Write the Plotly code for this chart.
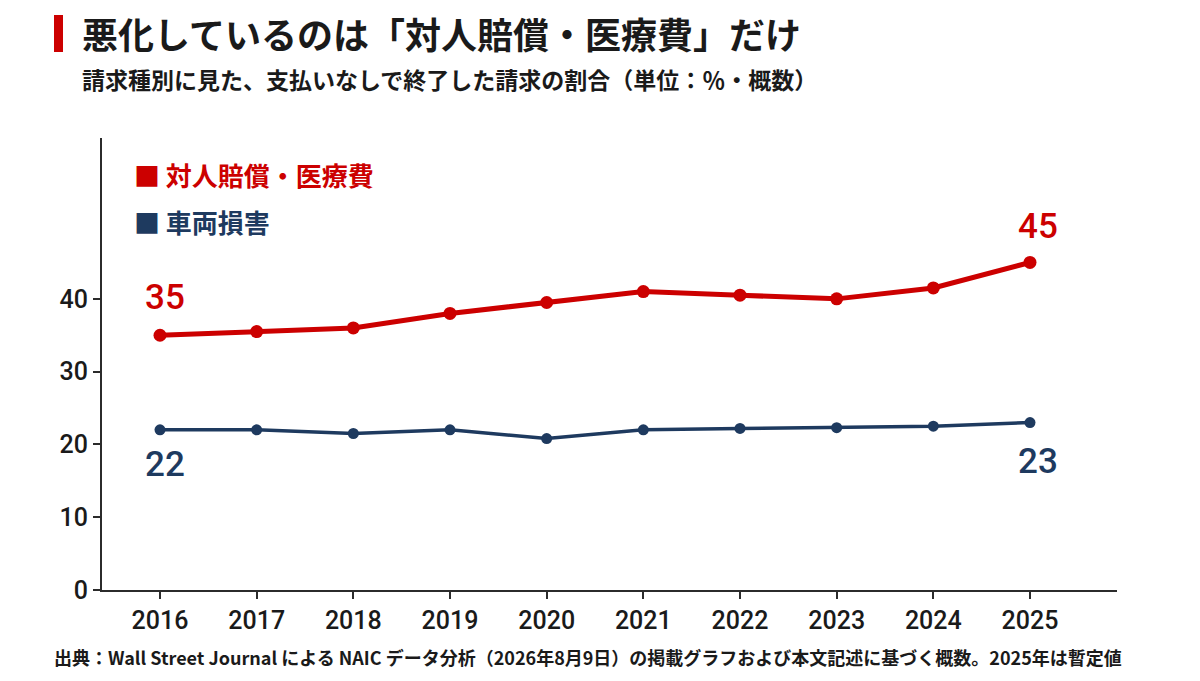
import plotly.graph_objects as go

# --- data ---
years = [2016, 2017, 2018, 2019, 2020, 2021, 2022, 2023, 2024, 2025]
injury_medical = [35, 35.5, 36, 38, 39.5, 41, 40.5, 40, 41.5, 45]   # 対人賠償・医療費
vehicle_damage = [22, 22, 21.5, 22, 20.8, 22, 22.2, 22.3, 22.5, 23]  # 車両損害
y_ticks = [0, 10, 20, 30, 40]

title_text = "悪化しているのは「対人賠償・医療費」だけ"
subtitle_text = "請求種別に見た、支払いなしで終了した請求の割合（単位：％・概数）"
source_text = ("出典：Wall Street Journal による NAIC データ分析（2026年8月9日）の掲載グラフ"
               "および本文記述に基づく概数。2025年は暫定値")
series_names = ["対人賠償・医療費", "車両損害"]

# --- styles ---
RED = "#cc0000"
NAVY = "#1e3a5f"
AXIS = "#2b2b2b"
FONT = "Noto Sans CJK JP"
NUM_FONT = "Roboto"

# page body has an 8px margin, so lay out in screen pixels minus that
OFF = 8
W, H = 1200 - OFF, 681 - OFF
L, R, T, B = 102 - OFF, 1117 - OFF, 138 - OFF, 590 - OFF   # plot area


def px2x(px):
    return (px - OFF - L) / (R - L)


def py2y(py):
    return (B - (py - OFF)) / (B - T)


fig = go.Figure()

fig.add_trace(go.Scatter(
    x=years, y=injury_medical, mode="lines+markers", name=series_names[0],
    line=dict(color=RED, width=5), marker=dict(color=RED, size=13),
    showlegend=False,
))
fig.add_trace(go.Scatter(
    x=years, y=vehicle_damage, mode="lines+markers", name=series_names[1],
    line=dict(color=NAVY, width=3.5), marker=dict(color=NAVY, size=11),
    showlegend=False,
))

annotations = []

# first / last value labels
label_spec = [
    (injury_medical, RED, [(0, 5, 38), (-1, 8, 36)]),
    (vehicle_damage, NAVY, [(0, 5, -35), (-1, 8, -39)]),
]
for vals, color, spots in label_spec:
    for i, xs, ys in spots:
        annotations.append(dict(
            x=years[i], y=vals[i], xref="x", yref="y",
            text=f"{vals[i]:.0f}", showarrow=False,
            xshift=xs, yshift=ys,
            font=dict(family=NUM_FONT, size=35, color=color, weight=500),
        ))

# legend made of text
for name, color, py in [(series_names[0], RED, 174), (series_names[1], NAVY, 221)]:
    annotations.append(dict(
        x=px2x(132), y=py2y(py), xref="paper", yref="paper",
        xanchor="left", yanchor="middle", showarrow=False,
        text=f"■ <b>{name}</b>",
        font=dict(family=FONT, size=26, color=color),
    ))

# title, subtitle, source
annotations.append(dict(
    x=px2x(80), y=py2y(33), xref="paper", yref="paper",
    xanchor="left", yanchor="middle", showarrow=False,
    text=f"<b>{title_text}</b>", font=dict(family=FONT, size=36, color="#1a1a1a"),
))
annotations.append(dict(
    x=px2x(80), y=py2y(79), xref="paper", yref="paper",
    xanchor="left", yanchor="middle", showarrow=False,
    text=f"<b>{subtitle_text}</b>", font=dict(family=FONT, size=23, color="#1a1a1a"),
))
annotations.append(dict(
    x=px2x(52), y=py2y(657), xref="paper", yref="paper",
    xanchor="left", yanchor="middle", showarrow=False,
    text=f"<b>{source_text}</b>", font=dict(family=FONT, size=18, color="#1a1a1a"),
))

# red bar next to the title
shapes = [dict(
    type="rect", xref="paper", yref="paper",
    x0=px2x(54), x1=px2x(63), y0=py2y(52), y1=py2y(15),
    fillcolor=RED, line=dict(width=0),
)]

fig.update_layout(
    width=W, height=H,
    margin=dict(l=L, r=W - R, t=T, b=H - B),
    paper_bgcolor="white", plot_bgcolor="white",
    font=dict(family=FONT, color="#1a1a1a"),
    annotations=annotations, shapes=shapes,
    showlegend=False,
)

tick_font = dict(family=NUM_FONT, size=25, color="#1a1a1a", weight=500)

fig.update_xaxes(
    range=[2015.4, 2025.9], tickvals=years, ticktext=[str(y) for y in years],
    showgrid=False, zeroline=False,
    showline=True, linecolor=AXIS, linewidth=2,
    ticks="outside", ticklen=7, tickwidth=2, tickcolor=AXIS,
    tickfont=tick_font,
)
fig.update_yaxes(
    range=[0, 62.1], tickvals=y_ticks, ticktext=[str(v) for v in y_ticks],
    showgrid=False, zeroline=False,
    showline=True, linecolor=AXIS, linewidth=2,
    ticks="outside", ticklen=7, tickwidth=2, tickcolor=AXIS,
    tickfont=tick_font,
)

fig.write_html("out.html")
